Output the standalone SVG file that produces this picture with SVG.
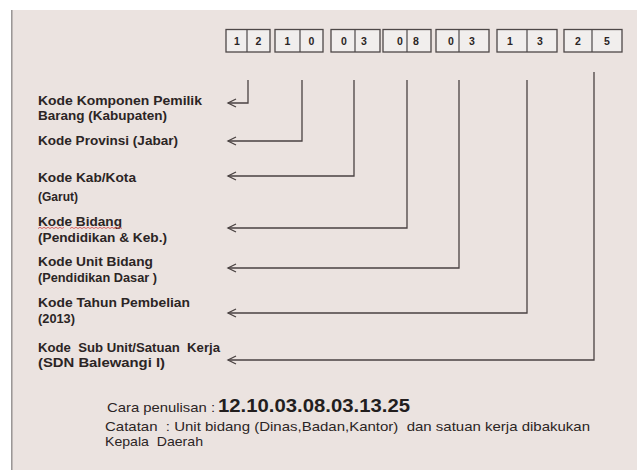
<svg xmlns="http://www.w3.org/2000/svg" width="637" height="470" viewBox="0 0 637 470">
<defs>
<style>
.lbl{font-family:"Liberation Sans",Arial,sans-serif;font-weight:bold;font-size:12.6px;fill:#2b2525}
.dg{font-family:"Liberation Sans",Arial,sans-serif;font-weight:bold;font-size:10.5px;fill:#2b2525;text-anchor:middle}
.box{fill:#f1eeed;stroke:#4e4848;stroke-width:1.3}
.div{stroke:#4e4848;stroke-width:1.2}
.txt{font-family:"Liberation Sans",Arial,sans-serif;font-size:13px;fill:#2b2525}
.num{font-family:"Liberation Sans",Arial,sans-serif;font-weight:bold;font-size:17.5px;fill:#231e1e}
.con{fill:none;stroke:#4a4242;stroke-width:1.3;marker-end:url(#ah)}
</style>
<marker id="ah" markerUnits="userSpaceOnUse" markerWidth="12" markerHeight="12" refX="0" refY="0" orient="auto" overflow="visible">
<path d="M-8,-4 L0,0 L-8,4" fill="none" stroke="#4a4242" stroke-width="1.3"/>
</marker>
</defs>
<rect x="0" y="0" width="637" height="470" fill="#ffffff"/>
<rect x="12" y="10" width="625" height="460" fill="#ebe3e0"/>
<line x1="11.8" y1="10" x2="11.8" y2="470" stroke="#8a8585" stroke-width="1.3"/>

<g id="code-boxes">
<g id="box-12"><rect class="box" x="226" y="29.5" width="44" height="22.5"/><line class="div" x1="247" y1="29.5" x2="247" y2="52"/><text class="dg" x="237" y="44.5">1</text><text class="dg" x="258.5" y="44.5">2</text></g>
<g id="box-10"><rect class="box" x="275" y="29.5" width="48" height="22.5"/><line class="div" x1="300" y1="29.5" x2="300" y2="52"/><text class="dg" x="287.5" y="44.5">1</text><text class="dg" x="311.5" y="44.5">0</text></g>
<g id="box-03a"><rect class="box" x="331" y="29.5" width="49" height="22.5"/><line class="div" x1="355" y1="29.5" x2="355" y2="52"/><text class="dg" x="344" y="44.5">0</text><text class="dg" x="364" y="44.5">3</text></g>
<g id="box-08"><rect class="box" x="383" y="29.5" width="48" height="22.5"/><line class="div" x1="407" y1="29.5" x2="407" y2="52"/><text class="dg" x="400" y="44.5">0</text><text class="dg" x="416" y="44.5">8</text></g>
<g id="box-03b"><rect class="box" x="436" y="29.5" width="53" height="22.5"/><line class="div" x1="459" y1="29.5" x2="459" y2="52"/><text class="dg" x="451" y="44.5">0</text><text class="dg" x="472" y="44.5">3</text></g>
<g id="box-13"><rect class="box" x="497" y="29.5" width="60" height="22.5"/><line class="div" x1="527" y1="29.5" x2="527" y2="52"/><text class="dg" x="510" y="44.5">1</text><text class="dg" x="540" y="44.5">3</text></g>
<g id="box-25"><rect class="box" x="564" y="29.5" width="58" height="22.5"/><line class="div" x1="592" y1="29.5" x2="592" y2="52"/><text class="dg" x="578" y="44.5">2</text><text class="dg" x="607" y="44.5">5</text></g>
</g>

<g id="connectors">
<path class="con" d="M248,80 V103 H228"/>
<path class="con" d="M302,80 V141 H228"/>
<path class="con" d="M354,80 V176 H228"/>
<path class="con" d="M407,80 V228 H228"/>
<path class="con" d="M459,80 V268 H228"/>
<path class="con" d="M527,80 V313 H228"/>
<path class="con" d="M594,72 V360 H228"/>
</g>

<g id="label-komponen">
<text class="lbl" x="38" y="105" textLength="164" lengthAdjust="spacingAndGlyphs">Kode Komponen Pemilik</text>
<text class="lbl" x="38" y="119.5" textLength="129" lengthAdjust="spacingAndGlyphs">Barang (Kabupaten)</text>
</g>
<g id="label-provinsi">
<text class="lbl" x="38" y="145" textLength="140" lengthAdjust="spacingAndGlyphs">Kode Provinsi (Jabar)</text>
</g>
<g id="label-kabkota">
<text class="lbl" x="38" y="182" textLength="98" lengthAdjust="spacingAndGlyphs">Kode Kab/Kota</text>
<text class="lbl" x="38" y="201" textLength="40" lengthAdjust="spacingAndGlyphs">(Garut)</text>
</g>
<g id="label-bidang">
<text class="lbl" x="38" y="226" textLength="84" lengthAdjust="spacingAndGlyphs">Kode Bidang</text>
<path d="M38,228.5 l2,-1.2 l2,1.2 l2,-1.2 l2,1.2 l2,-1.2 l2,1.2 l2,-1.2 l2,1.2 l2,-1.2 l2,1.2 l2,-1.2 l2,1.2 l2,-1.2 M70,228.5 l2,-1.2 l2,1.2 l2,-1.2 l2,1.2 l2,-1.2 l2,1.2 l2,-1.2 l2,1.2 l2,-1.2 l2,1.2 l2,-1.2 l2,1.2 l2,-1.2 l2,1.2 l2,-1.2 l2,1.2 l2,-1.2 l2,1.2 l2,-1.2 l2,1.2 l2,-1.2 l2,1.2 l2,-1.2 l2,1.2 l2,-1.2 l2,1.2" fill="none" stroke="#d04848" stroke-width="0.8"/>
<text class="lbl" x="38" y="242" textLength="129" lengthAdjust="spacingAndGlyphs">(Pendidikan &amp; Keb.)</text>
</g>
<g id="label-unit">
<text class="lbl" x="38" y="266" textLength="115" lengthAdjust="spacingAndGlyphs">Kode Unit Bidang</text>
<text class="lbl" x="38" y="282" textLength="119" lengthAdjust="spacingAndGlyphs">(Pendidikan Dasar )</text>
</g>
<g id="label-tahun">
<text class="lbl" x="38" y="307" textLength="152" lengthAdjust="spacingAndGlyphs">Kode Tahun Pembelian</text>
<text class="lbl" x="38" y="323" textLength="37" lengthAdjust="spacingAndGlyphs">(2013)</text>
</g>
<g id="label-subunit">
<text class="lbl" x="38" y="352" textLength="182" lengthAdjust="spacingAndGlyphs" xml:space="preserve">Kode  Sub Unit/Satuan  Kerja</text>
<text class="lbl" x="38" y="367" textLength="127" lengthAdjust="spacingAndGlyphs">(SDN Balewangi I)</text>
</g>

<g id="notes">
<text class="txt" x="107" y="412" textLength="108" lengthAdjust="spacingAndGlyphs">Cara penulisan :</text>
<text class="num" x="218" y="412" textLength="192" lengthAdjust="spacingAndGlyphs">12.10.03.08.03.13.25</text>
<text class="txt" x="105" y="431" textLength="485" lengthAdjust="spacingAndGlyphs" xml:space="preserve">Catatan  : Unit bidang (Dinas,Badan,Kantor)  dan satuan kerja dibakukan</text>
<text class="txt" x="105" y="446" textLength="98" lengthAdjust="spacingAndGlyphs" xml:space="preserve">Kepala  Daerah</text>
</g>
</svg>
